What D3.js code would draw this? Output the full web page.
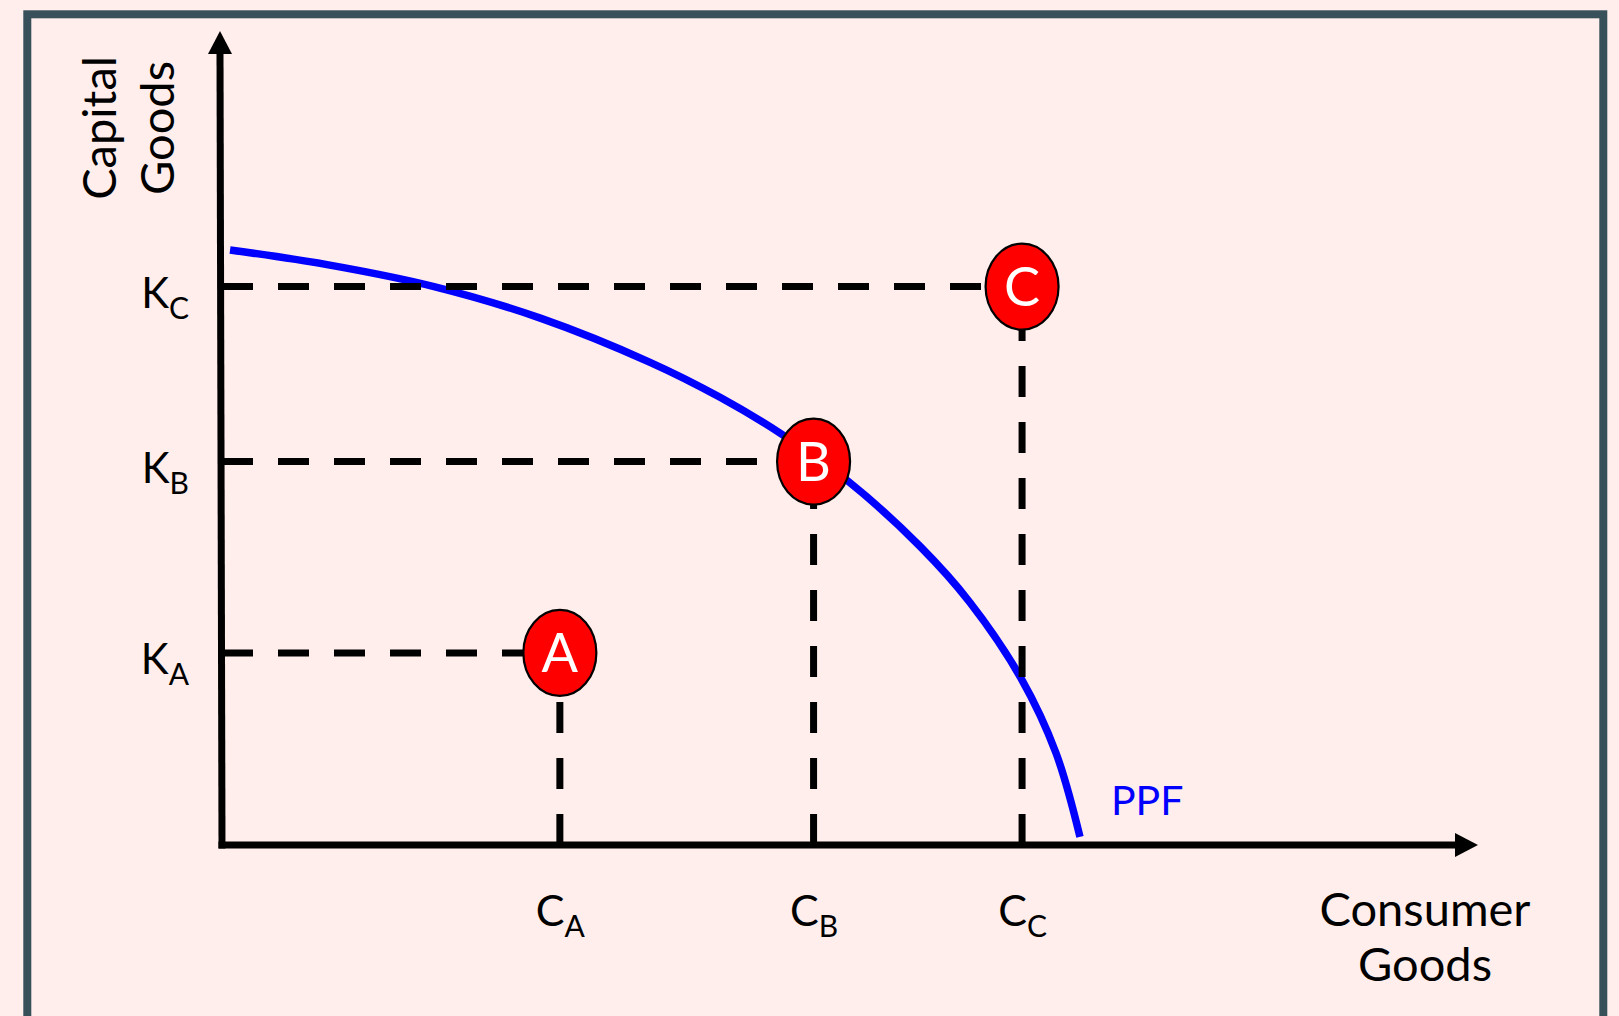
<!DOCTYPE html>
<html>
<head>
<meta charset="utf-8">
<script src="https://cdn.jsdelivr.net/npm/d3@7"></script>
<style>
    html, body {
        margin: 0;
        padding: 0;
        background: #ffeeec;
        overflow: hidden;
    }
    #chart svg {
        display: block;
    }
</style>
</head>
<body>
<div id="chart"></div>
<script>
// points on the diagram (consumer goods, capital goods)
const pointNames = ["A", "B", "C"];
const consumerValues = [26.9, 47.1, 63.7];
const capitalValues = [23.6, 47.1, 68.6];

// production possibility frontier
const ppfConsumer = [0.64, 8.36, 16.88, 25.40, 34.08, 39.65, 44.43, 49.84, 55.57, 59.55, 63.61, 66.40, 68.31];
const ppfCapital = [73.1, 71.3, 68.6, 64.7, 59.3, 55.0, 50.6, 44.7, 36.7, 29.8, 20.5, 11.3, 1.0];

const xTickMain = "C";
const yTickMain = "K";
const xTitle = ["Consumer", "Goods"];
const yTitle = ["Capital", "Goods"];
const curveLabel = "PPF";

function renderPPF(containerSelector) {
    const width = 1619;
    const height = 1016;
    const font = "Lato, 'Open Sans', sans-serif";

    const svg = d3.select(containerSelector)
        .append("svg")
        .attr("width", width)
        .attr("height", height);

    // frame
    svg.append("rect")
        .attr("x", 27.3)
        .attr("y", 14.3)
        .attr("width", 1576)
        .attr("height", 1100)
        .attr("fill", "#ffeeec")
        .attr("stroke", "#37505a")
        .attr("stroke-width", 8);

    const x = d3.scaleLinear()
        .domain([0, 100])
        .range([222, 1478]);

    const y = d3.scaleLinear()
        .domain([0, 100])
        .range([845, 31]);

    const ppfData = ppfConsumer.map((c, i) => ({ c: c, k: ppfCapital[i] }));
    const points = pointNames.map((n, i) => ({ name: n, c: consumerValues[i], k: capitalValues[i] }));

    // PPF curve
    const line = d3.line()
        .x(d => x(d.c))
        .y(d => y(d.k))
        .curve(d3.curveCatmullRom.alpha(0.5));

    svg.append("path")
        .datum(ppfData)
        .attr("d", line)
        .attr("fill", "none")
        .attr("stroke", "#0000ff")
        .attr("stroke-width", 7.5);

    svg.append("text")
        .attr("x", x(ppfConsumer[ppfConsumer.length - 1]) + 31)
        .attr("y", y(0) - 30)
        .attr("font-family", font)
        .attr("font-size", 41)
        .attr("fill", "#0000ff")
        .text(curveLabel);

    // dashed guide lines
    const guides = svg.append("g")
        .attr("stroke", "#000")
        .attr("stroke-width", 7)
        .attr("stroke-dasharray", "31,25");

    guides.selectAll("line.h")
        .data(points)
        .join("line")
        .attr("class", "h")
        .attr("x1", x(0))
        .attr("x2", d => x(d.c))
        .attr("y1", d => y(d.k))
        .attr("y2", d => y(d.k));

    guides.selectAll("line.v")
        .data(points)
        .join("line")
        .attr("class", "v")
        .attr("x1", d => x(d.c))
        .attr("x2", d => x(d.c))
        .attr("y1", y(0))
        .attr("y2", d => y(d.k));

    // axes lines with arrow heads
    const arrowLen = 23;
    const arrowHalf = 12;

    svg.append("line")
        .attr("x1", x(0))
        .attr("x2", x(0) - 2)
        .attr("y1", y(0) + 3.5)
        .attr("y2", y(100) + arrowLen - 1)
        .attr("stroke", "#000")
        .attr("stroke-width", 7);

    svg.append("line")
        .attr("x1", x(0) - 3.5)
        .attr("x2", x(100) - arrowLen + 1)
        .attr("y1", y(0))
        .attr("y2", y(0))
        .attr("stroke", "#000")
        .attr("stroke-width", 7);

    svg.append("path")
        .attr("d", `M${x(0) - 2},${y(100)} L${x(0) - 2 - arrowHalf},${y(100) + arrowLen} L${x(0) - 2 + arrowHalf},${y(100) + arrowLen} Z`)
        .attr("fill", "#000");

    svg.append("path")
        .attr("d", `M${x(100)},${y(0)} L${x(100) - arrowLen},${y(0) - arrowHalf} L${x(100) - arrowLen},${y(0) + arrowHalf} Z`)
        .attr("fill", "#000");

    // tick labels with subscripts
    const xAxis = svg.append("g")
        .attr("transform", `translate(0,${y(0)})`)
        .call(d3.axisBottom(x).tickValues(consumerValues).tickSize(0).tickFormat(""))
        .call(g => g.select(".domain").remove());

    xAxis.selectAll(".tick text")
        .attr("y", 81)
        .attr("dy", null)
        .attr("fill", "#000")
        .attr("font-family", font)
        .attr("font-size", 43)
        .attr("text-anchor", "middle")
        .each(function (d, i) {
            const t = d3.select(this);
            t.append("tspan").text(xTickMain);
            t.append("tspan").attr("font-size", 30).attr("dy", 11).text(pointNames[i]);
        });

    const yAxis = svg.append("g")
        .attr("transform", `translate(${x(0)},0)`)
        .call(d3.axisLeft(y).tickValues(capitalValues).tickSize(0).tickFormat(""))
        .call(g => g.select(".domain").remove());

    yAxis.selectAll(".tick text")
        .attr("x", -33)
        .attr("y", 21)
        .attr("dy", null)
        .attr("fill", "#000")
        .attr("font-family", font)
        .attr("font-size", 42)
        .attr("text-anchor", "end")
        .each(function (d, i) {
            const t = d3.select(this);
            t.append("tspan").text(yTickMain);
            t.append("tspan").attr("font-size", 30).attr("dy", 11).text(pointNames[i]);
        });

    // axis titles
    svg.append("text")
        .attr("x", 1425)
        .attr("y", 926)
        .attr("font-family", font)
        .attr("font-size", 47)
        .attr("text-anchor", "middle")
        .selectAll("tspan")
        .data(xTitle)
        .join("tspan")
        .attr("x", 1425)
        .attr("dy", (d, i) => i === 0 ? 0 : 55)
        .text(d => d);

    svg.append("text")
        .attr("transform", "translate(115.6,128) rotate(-90)")
        .attr("font-family", font)
        .attr("font-size", 47)
        .attr("text-anchor", "middle")
        .selectAll("tspan")
        .data(yTitle)
        .join("tspan")
        .attr("x", 0)
        .attr("dy", (d, i) => i === 0 ? 0 : 58)
        .text(d => d);

    // point markers
    const marks = svg.selectAll("g.point")
        .data(points)
        .join("g")
        .attr("class", "point")
        .attr("transform", d => `translate(${x(d.c)},${y(d.k)})`);

    marks.append("ellipse")
        .attr("rx", 36.5)
        .attr("ry", 43)
        .attr("fill", "#ff0000")
        .attr("stroke", "#000")
        .attr("stroke-width", 2.2);

    marks.append("text")
        .attr("text-anchor", "middle")
        .attr("dy", "0.36em")
        .attr("font-family", font)
        .attr("font-size", 54)
        .attr("fill", "#fff")
        .text(d => d.name);
}

renderPPF("#chart");
</script>
</body>
</html>
